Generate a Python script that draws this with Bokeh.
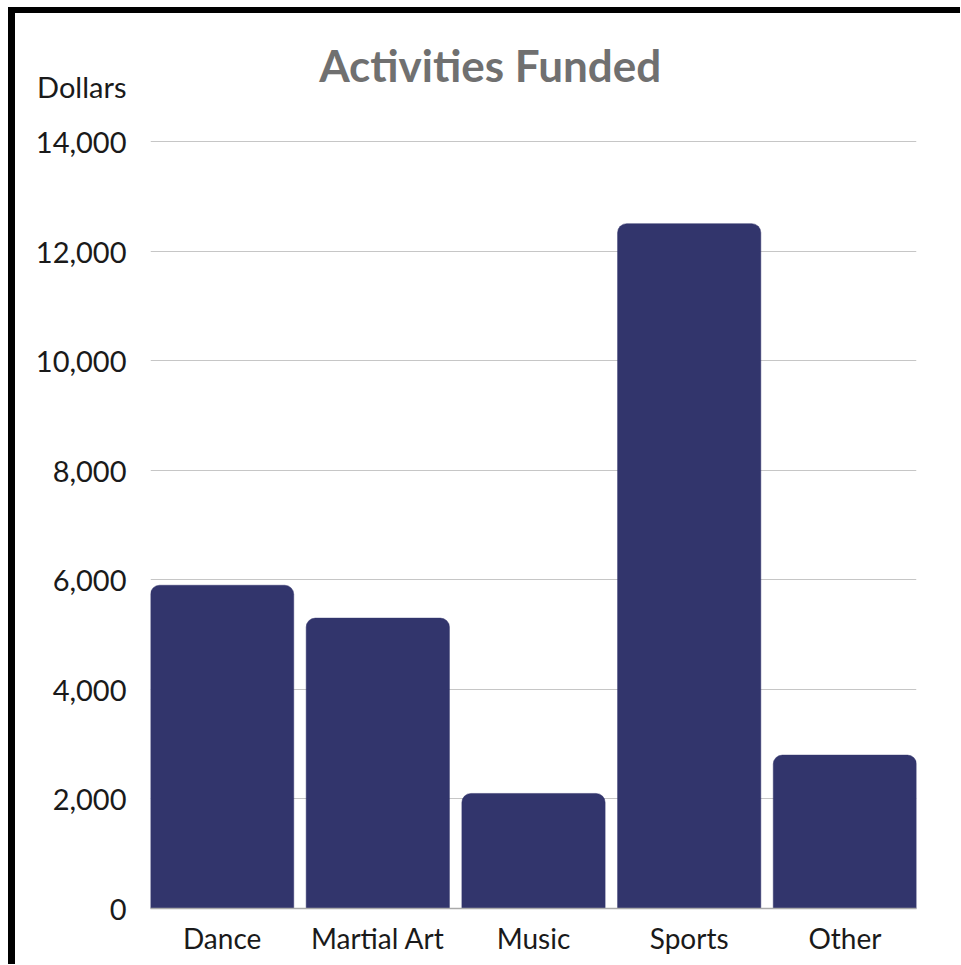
from bokeh.plotting import figure
from bokeh.models import Range1d, FixedTicker, NumeralTickFormatter, Label
from bokeh.embed import file_html
from bokeh.resources import INLINE

categories = ["Dance", "Martial Art", "Music", "Sports", "Other"]
dollars = [5900, 5300, 2100, 12500, 2800]
y_ticks = [0, 2000, 4000, 6000, 8000, 10000, 12000, 14000]
title_text = "Activities Funded"
y_label = "Dollars"

# layout helpers (label positions in data units)
Y_UNIT_LABEL_AT = 15000     # where the "Dollars" unit label sits on the y axis
Y_TOP = 16500               # frame extends above the last tick to hold the title
TITLE_X, TITLE_Y = 1.722, 15400

xs = list(range(len(categories)))
BAR_W = 0.92

p = figure(width=960, height=964, output_backend="svg", toolbar_location=None,
           x_range=Range1d(-BAR_W / 2, len(categories) - 1 + BAR_W / 2),
           y_range=Range1d(0, Y_TOP),
           frame_width=766, frame_height=904,
           min_border_left=150, min_border_top=4, min_border_right=44, min_border_bottom=56)
p.styles = {"box-shadow": "inset 8px 7px 0 0 white, inset 15px 13px 0 0 black"}
p.outline_line_color = None
p.background_fill_color = None
p.border_fill_color = None

p.vbar(x=xs, top=dollars, width=BAR_W, bottom=0, fill_color="#32356C",
       line_color="#32356C", line_width=0.5, border_radius=(9, 9, 0, 0))

p.xgrid.grid_line_color = None
p.ygrid.grid_line_color = "#c6c6c6"
p.ygrid.grid_line_width = 1
p.ygrid.ticker = FixedTicker(ticks=y_ticks)

p.yaxis.ticker = FixedTicker(ticks=y_ticks + [Y_UNIT_LABEL_AT])
p.yaxis.formatter = NumeralTickFormatter(format="0,0")
p.yaxis.major_label_overrides = {Y_UNIT_LABEL_AT: y_label}
p.yaxis.axis_line_color = None
p.yaxis.major_tick_line_color = None
p.yaxis.minor_tick_line_color = None
p.yaxis.major_tick_out = 0
p.yaxis.major_label_standoff = 24
p.yaxis.major_label_text_font = "Lato"
p.yaxis.major_label_text_font_size = "29px"
p.yaxis.major_label_text_color = "#1a1a1a"

p.xaxis.ticker = FixedTicker(ticks=xs)
p.xaxis.major_label_overrides = {i: c for i, c in zip(xs, categories)}
p.xaxis.axis_line_color = "#aaaaaa"
p.xaxis.axis_line_width = 1.5
p.xaxis.major_tick_line_color = None
p.xaxis.minor_tick_line_color = None
p.xaxis.major_tick_out = 0
p.xaxis.major_label_standoff = 12
p.xaxis.major_label_text_font = "Lato"
p.xaxis.major_label_text_font_size = "28px"
p.xaxis.major_label_text_color = "#1a1a1a"

p.add_layout(Label(x=TITLE_X, y=TITLE_Y, text=title_text, text_align="center",
                   text_baseline="alphabetic", text_font="Lato",
                   text_font_style="bold", text_font_size="44px", text_color="#707070"))

open("out.html", "w").write(file_html(p, INLINE))
